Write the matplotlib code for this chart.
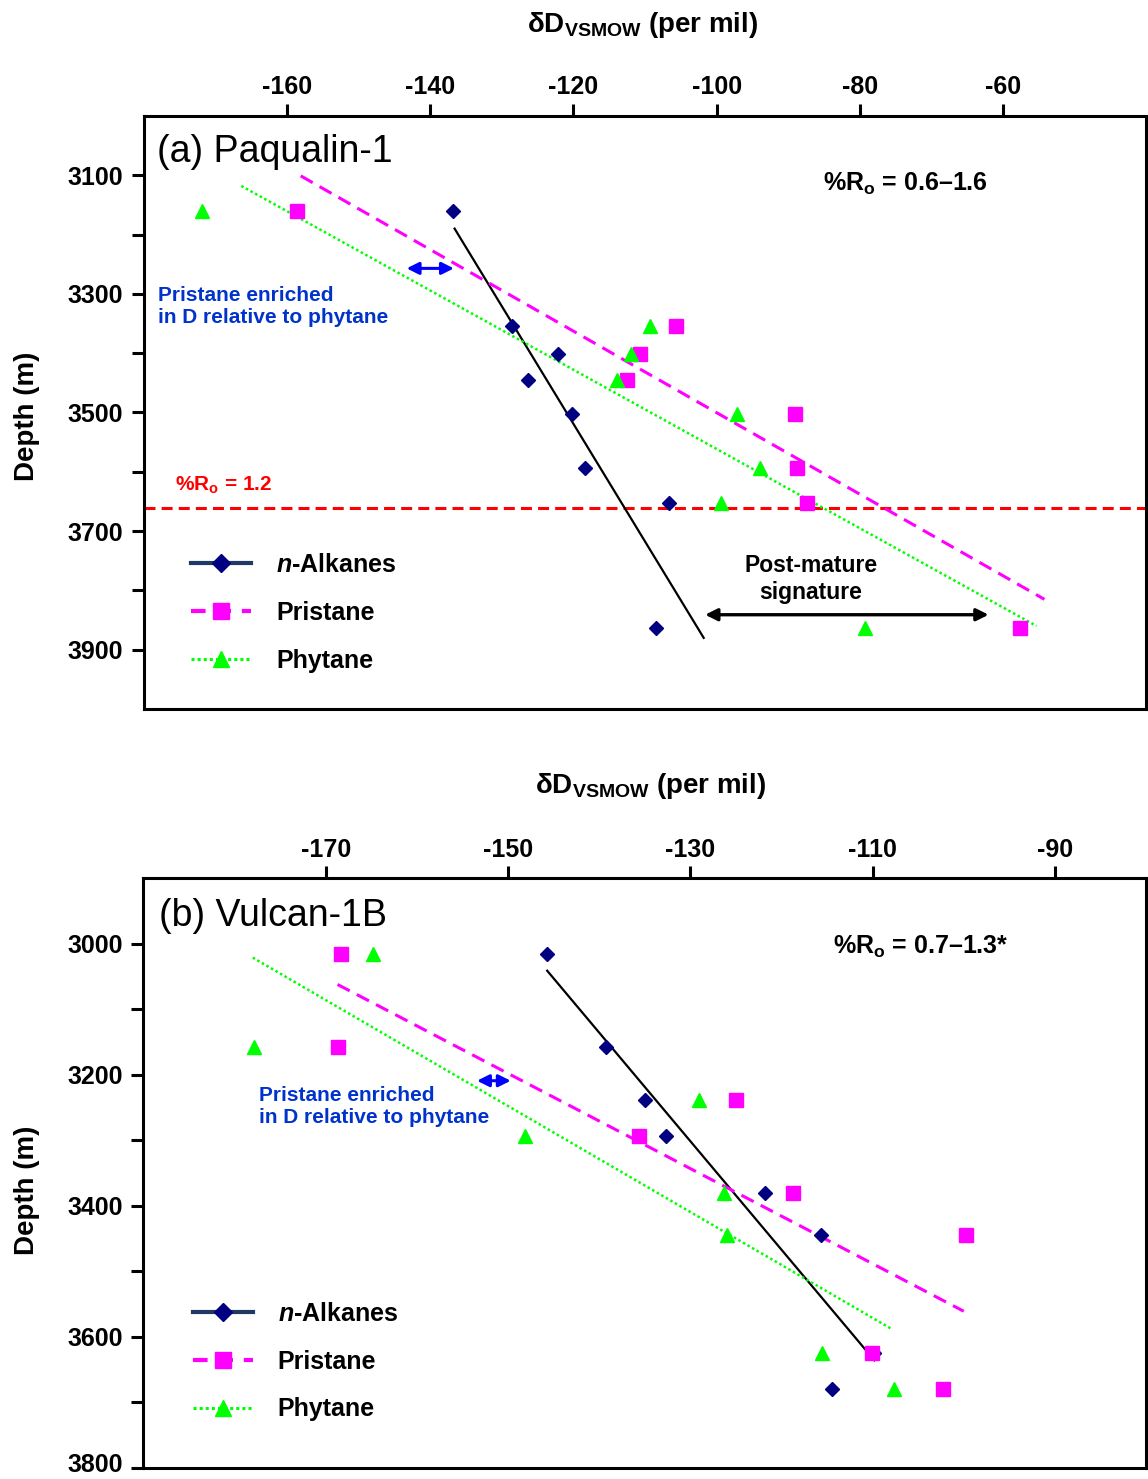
import matplotlib
matplotlib.use("Agg")
import matplotlib.pyplot as plt
import matplotlib.transforms as mtransforms
from matplotlib.lines import Line2D

plt.rcParams['font.family'] = ['Liberation Sans', 'DejaVu Sans']
plt.rcParams['font.weight'] = 'bold'
plt.rcParams['axes.unicode_minus'] = False
plt.rcParams['mathtext.fontset'] = 'custom'
plt.rcParams['mathtext.rm'] = 'Liberation Sans:bold'
plt.rcParams['mathtext.bf'] = 'Liberation Sans:bold'
plt.rcParams['mathtext.it'] = 'Liberation Sans:bold:italic'

# ---- (a) Paqualin-1 ----
depth_a = [3160, 3355, 3402, 3445, 3503, 3593, 3653, 3864]
alk_a = [-136.8, -128.6, -122.2, -126.3, -120.2, -118.4, -106.6, -108.4]
pri_a = [-158.6, -105.7, -110.7, -112.5, -89.1, -88.8, -87.3, -57.6]
phy_a = [-171.9, -109.3, -111.9, -113.9, -97.1, -93.9, -99.4, -79.3]
# trend line end points (dD, depth)
alk_fit_a = ([-136.6, -101.8], [3190, 3880])
pri_fit_a = ([-158.1, -54.2], [3101, 3815])
phy_fit_a = ([-166.4, -55.3], [3118, 3860])
ro_line_a = 3661

# ---- (b) Vulcan-1B ----
depth_b = [3015, 3157, 3239, 3293, 3380, 3444, 3625, 3680]
alk_b = [-145.7, -139.3, -135.0, -132.7, -121.8, -115.7, -109.8, -114.5]
pri_b = [-168.3, -168.7, -125.0, -135.6, -118.7, -99.8, -110.1, -102.3]
phy_b = [-164.8, -177.9, -129.0, -148.1, -126.3, -126.0, -115.6, -107.7]
alk_fit_b = ([-145.7, -109.8], [3041, 3636])
pri_fit_b = ([-168.7, -100.0], [3062, 3561])
phy_fit_b = ([-178.0, -107.8], [3021, 3589])

NAVY = '#000080'
MAG = '#FF00FF'
GRN = '#00FF00'
BLUE_TXT = '#0033CC'


def draw_panel(ax, depth, alk, pri, phy, fits, xlim, ylim, xticks, yticks, ylabels):
    alk_fit, pri_fit, phy_fit = fits
    ax.plot(*alk_fit, color='black', lw=1.6, zorder=2)
    ax.plot(*pri_fit, color=MAG, lw=2.2, dashes=(4.5, 2.6), zorder=2)
    ax.plot(*phy_fit, color=GRN, lw=1.8, dashes=(1, 1.1), zorder=2)
    ax.plot(alk, depth, 'D', color=NAVY, ms=7.5, mec=NAVY, ls='none', zorder=3)
    ax.plot(pri, depth, 's', color=MAG, ms=9.5, mec=MAG, ls='none', zorder=3)
    ax.plot(phy, depth, '^', color=GRN, ms=10, mec=GRN, ls='none', zorder=3)

    ax.set_xlim(*xlim)
    ax.set_ylim(*ylim)
    ax.xaxis.tick_top()
    ax.set_xticks(xticks)
    ax.set_yticks(yticks)
    ax.set_yticklabels(ylabels)
    ax.tick_params(axis='x', direction='out', length=9, width=2.2, pad=3, labelsize=18,
                   top=True, bottom=False)
    ax.tick_params(axis='y', direction='out', length=9, width=2.2, pad=6, labelsize=18,
                   left=True, right=False)
    for s in ax.spines.values():
        s.set_linewidth(2.2)

    handles = [
        Line2D([], [], color='#1F3864', lw=3, marker='D', ms=9, mfc=NAVY, mec=NAVY),
        Line2D([], [], color=MAG, lw=3, dashes=(3.5, 2.6), marker='s', ms=12, mfc=MAG, mec=MAG),
        Line2D([], [], color=GRN, lw=2.2, dashes=(1, 1), marker='^', ms=12, mfc=GRN, mec=GRN),
    ]
    return handles


fig = plt.figure(figsize=(11.48, 14.79), dpi=100)
ax1 = fig.add_axes([0.1254, 0.5206, 0.8729, 0.4010])
ax2 = fig.add_axes([0.1249, 0.0076, 0.8734, 0.3985])

labels = [r'$\mathit{n}$-Alkanes', 'Pristane', 'Phytane']

# panel (a)
h = draw_panel(ax1, depth_a, alk_a, pri_a, phy_a, (alk_fit_a, pri_fit_a, phy_fit_a),
               (-180, -40), (4000, 3000), range(-160, -59, 20),
               range(3100, 4000, 100),
               [str(v) if (v // 100) % 2 == 1 else '' for v in range(3100, 4000, 100)])
ax1.axhline(ro_line_a, color='#FF0000', lw=2.2, dashes=(3.6, 2), zorder=1)
ax1.text(0.0127, 0.923, '(a) Paqualin-1', transform=ax1.transAxes, fontsize=27,
         fontweight='normal', va='baseline', ha='left')
ax1.text(-85.2, 3126, '%R$_\\mathbf{o}$ = 0.6–1.6', fontsize=18, va='baseline', ha='left')
ax1.text(-175.7, 3632, '%R$_\\mathbf{o}$ = 1.2', fontsize=15, color='#FF0000',
         va='baseline', ha='left')
ax1.text(-178.0, 3322, 'Pristane enriched\nin D relative to phytane', fontsize=15,
         color=BLUE_TXT, va='center', ha='left', linespacing=1.2)
ax1.annotate('', xy=(-143.3, 3257), xytext=(-136.7, 3257),
             arrowprops=dict(arrowstyle='<|-|>', color='#0000FF', lw=2.2,
                             mutation_scale=18, shrinkA=0, shrinkB=0))
ax1.annotate('', xy=(-101.6, 3841), xytext=(-62.0, 3841),
             arrowprops=dict(arrowstyle='<|-|>', color='black', lw=2.4,
                             mutation_scale=18, shrinkA=0, shrinkB=0))
ax1.text(-86.8, 3781, 'Post-mature\nsignature', fontsize=16.5, ha='center', va='center',
         linespacing=1.2)
ax1.legend(h, labels, loc='center left', bbox_to_anchor=(0.047, 0.162), frameon=False,
           prop={'weight': 'bold', 'size': 18}, handlelength=2.4, handletextpad=1.0,
           labelspacing=0.95, borderpad=0, borderaxespad=0)

# panel (b)
h = draw_panel(ax2, depth_b, alk_b, pri_b, phy_b, (alk_fit_b, pri_fit_b, phy_fit_b),
               (-190, -80), (3800, 2900), range(-170, -89, 20),
               range(3000, 3801, 100),
               [str(v) if (v // 100) % 2 == 0 else '' for v in range(3000, 3801, 100)])
# bottom label sits on the figure edge; nudge it up a little so it stays inside
last = ax2.get_yticklabels()[-1]
last.set_transform(last.get_transform() +
                   mtransforms.ScaledTranslation(0, 4 / 72, fig.dpi_scale_trans))
ax2.text(0.0152, 0.919, '(b) Vulcan-1B', transform=ax2.transAxes, fontsize=27,
         fontweight='normal', va='baseline', ha='left')
ax2.text(-114.3, 3015, '%R$_\\mathbf{o}$ = 0.7–1.3*', fontsize=18, va='baseline', ha='left')
ax2.text(-177.3, 3249, 'Pristane enriched\nin D relative to phytane', fontsize=15,
         color=BLUE_TXT, va='center', ha='left', linespacing=1.2)
ax2.annotate('', xy=(-153.4, 3209), xytext=(-149.7, 3209),
             arrowprops=dict(arrowstyle='<|-|>', color='#0000FF', lw=2.2,
                             mutation_scale=18, shrinkA=0, shrinkB=0))
ax2.legend(h, labels, loc='center left', bbox_to_anchor=(0.049, 0.180), frameon=False,
           prop={'weight': 'bold', 'size': 18}, handlelength=2.4, handletextpad=1.0,
           labelspacing=0.95, borderpad=0, borderaxespad=0)

# axis titles
xt = r'δD$_\mathbf{VSMOW}$ (per mil)'
fig.text(642.5 / 1148, 1 - 31.7 / 1479, xt, fontsize=20, ha='center', va='baseline')
fig.text(651 / 1148, 1 - 793.3 / 1479, xt, fontsize=20, ha='center', va='baseline')
fig.text(27.5 / 1148, 1 - 416.7 / 1479, 'Depth (m)', fontsize=20, rotation=90,
         ha='center', va='center')
fig.text(27.5 / 1148, 1 - 1190 / 1479, 'Depth (m)', fontsize=20, rotation=90,
         ha='center', va='center')

fig.savefig('out.png', dpi=100)
